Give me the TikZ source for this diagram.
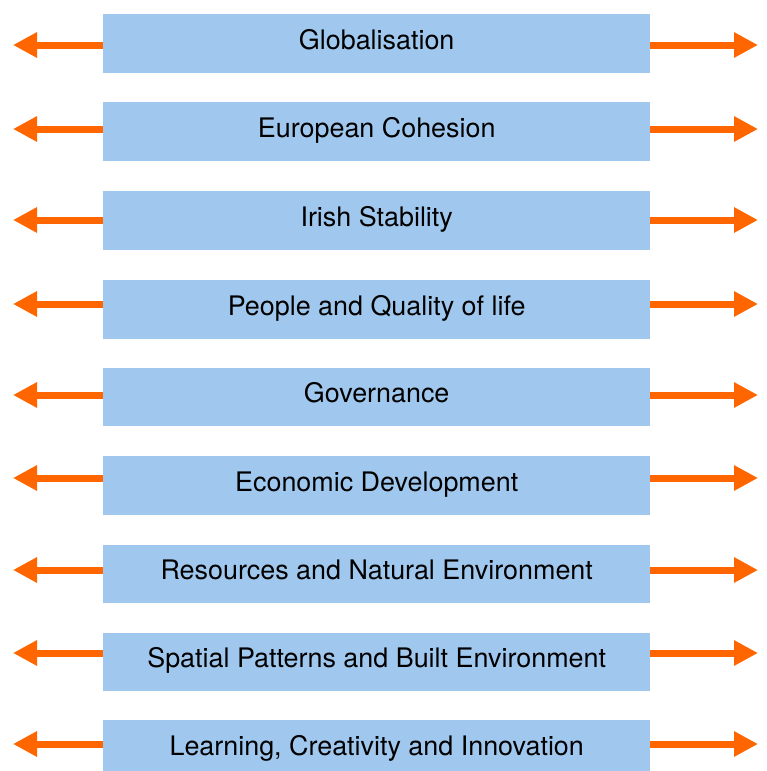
\documentclass[tikz,border=0pt]{standalone}
\usepackage{fontspec}
\setmainfont{TeX Gyre Heros}
\usetikzlibrary{arrows.meta}
\definecolor{boxblue}{HTML}{A0C8EE}
\definecolor{arrorange}{HTML}{FF6600}
\tikzset{
  topic/.style={fill=boxblue, draw=none, anchor=north west, inner sep=0pt,
    minimum width=547pt, minimum height=58.5pt, font=\fontsize{26.9pt}{30pt}\selectfont,
    text height=19.9pt, text depth=8.2pt},
  biarrow/.style={draw=arrorange, line width=7pt, -{Triangle[length=24pt,width=24pt]}}
}
\begin{document}
\begin{tikzpicture}[x=1pt,y=-1pt]
\useasboundingbox (0,0) rectangle (766,771);
\clip (0,0) rectangle (766,771);
\foreach \i/\top/\ay/\txt in {
  1/14/45/Globalisation,
  2/102/129/European Cohesion,
  3/191/220/Irish Stability,
  4/280/304/People and Quality of life,
  5/367.5/395/Governance,
  6/456/478/Economic Development,
  7/544.5/570/Resources and Natural Environment,
  8/632.5/653/Spatial Patterns and Built Environment,
  9/720/744/{Learning, Creativity and Innovation}}{
  \node[topic] (b\i) at (103,\top) {\txt};
  \coordinate (la\i) at (13,\ay);
  \coordinate (ra\i) at (758,\ay);
  \draw[biarrow] (la\i -| b\i.west) -- (la\i);
  \draw[biarrow] (ra\i -| b\i.east) -- (ra\i);
}
\end{tikzpicture}
\end{document}
